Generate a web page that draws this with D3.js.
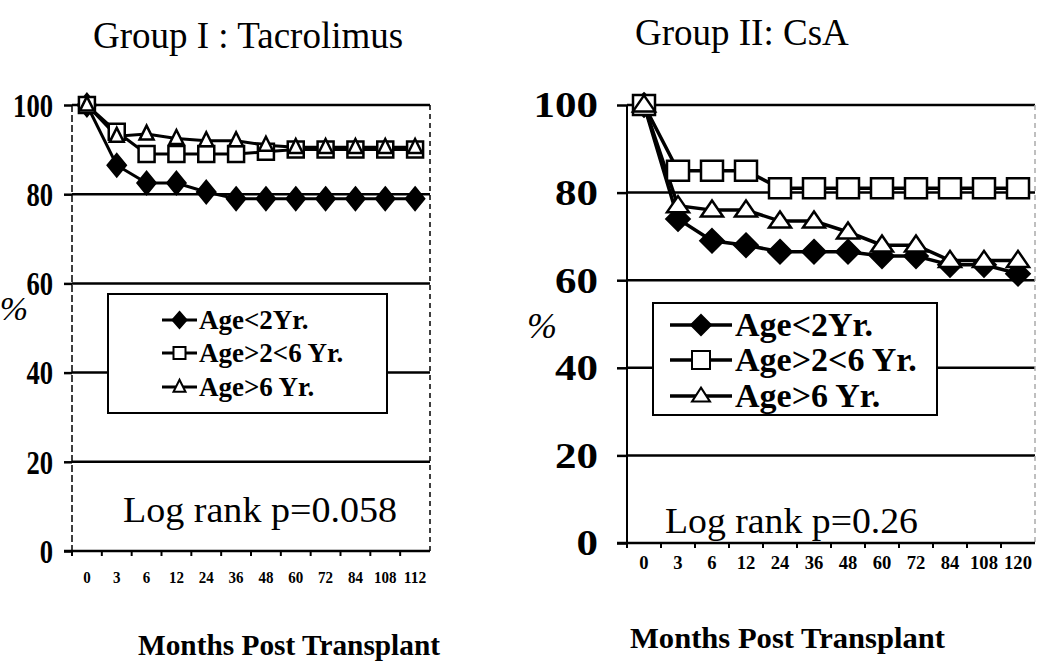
<!DOCTYPE html>
<html>
<head>
<meta charset="utf-8">
<script src="https://cdn.jsdelivr.net/npm/d3@7"></script>
<style>
  body { margin: 0; background: #fff; }
  text { font-family: "Liberation Serif", "Times New Roman", serif; fill: #000; }
</style>
</head>
<body>
<svg width="1050" height="670"></svg>
<script>
// x categories (months post transplant)
const monthsTac = ["0", "3", "6", "12", "24", "36", "48", "60", "72", "84", "108", "112"];
const monthsCsa = ["0", "3", "6", "12", "24", "36", "48", "60", "72", "84", "108", "120"];
const yTicks = [0, 20, 40, 60, 80, 100];
const seriesNames = ["Age<2Yr.", "Age>2<6 Yr.", "Age>6 Yr."];

// Group I : Tacrolimus (% survival)
const tacLt2 = [100, 86.5, 82.5, 82.5, 80.5, 79, 79, 79, 79, 79, 79, 79];
const tac2to6 = [100, 94, 89, 89, 89, 89, 89.5, 90, 90, 90, 90, 90];
const tacGt6 = [100, 93, 93.5, 92.5, 92, 92, 91, 90.5, 90.5, 90.5, 90.5, 90.5];

// Group II: CsA (% survival)
const csaLt2 = [100, 74, 69, 68, 66.5, 66.5, 66.5, 65.5, 65.5, 63.5, 63.5, 61.5];
const csa2to6 = [100, 85, 85, 85, 81, 81, 81, 81, 81, 81, 81, 81];
const csaGt6 = [100, 77, 76, 76, 73.5, 73.5, 71, 68, 68, 64.5, 64.5, 64.5];

const svg = d3.select("svg");

// marker shapes, drawn around (0,0)
function markerPath(kind, s) {
  if (kind === "diamond") return `M0,${-s.dh}L${s.dw},0L0,${s.dh}L${-s.dw},0Z`;
  if (kind === "square") return `M${-s.sw},${-s.sh}H${s.sw}V${s.sh}H${-s.sw}Z`;
  return `M0,${-s.th * 1.2}L${s.tw},${s.th * 0.8}L${-s.tw},${s.th * 0.8}Z`;
}
const kinds = ["diamond", "square", "triangle"];

function drawPanel(cfg) {
  const g = svg.append("g");

  const x = d3.scaleBand().domain(cfg.months).range(cfg.xRange);
  const y = d3.scaleLinear().domain([0, 100]).range(cfg.yRange);
  const cx = d => x(d) + x.bandwidth() / 2;
  const [x0, x1] = cfg.xRange;

  // horizontal grid lines (20..100)
  g.selectAll(".grid")
    .data(yTicks.filter(t => t > 0))
    .enter().append("line")
    .attr("x1", x0).attr("x2", x1)
    .attr("y1", d => y(d)).attr("y2", d => y(d))
    .attr("stroke", "#000").attr("stroke-width", 2.5);

  // right border
  g.append("line")
    .attr("x1", x1).attr("x2", x1)
    .attr("y1", y(100)).attr("y2", y(0))
    .attr("stroke", cfg.rightColor).attr("stroke-width", 1.5)
    .attr("stroke-dasharray", "5,4");

  // left axis line
  g.append("line")
    .attr("x1", x0).attr("x2", x0)
    .attr("y1", y(100)).attr("y2", y(0))
    .attr("stroke", "#000").attr("stroke-width", cfg.leftWidth)
    .attr("stroke-dasharray", cfg.leftDash);

  // bottom axis line
  g.append("line")
    .attr("x1", x0 - cfg.tick).attr("x2", x1)
    .attr("y1", y(0)).attr("y2", y(0))
    .attr("stroke", "#000").attr("stroke-width", 2.5);

  // y axis ticks + labels
  const yAxis = g.append("g")
    .attr("transform", `translate(${x0},0)`)
    .call(d3.axisLeft(y).tickValues(yTicks).tickSize(cfg.tick).tickPadding(cfg.yPad));
  yAxis.select(".domain").remove();
  yAxis.selectAll("line").attr("stroke", "#000").attr("stroke-width", 2.5);
  yAxis.selectAll("text")
    .attr("font-family", "Liberation Serif")
    .attr("font-weight", "bold")
    .attr("font-size", cfg.yFont)
    .attr("dy", "0.34em")
    .attr("textLength", d => String(d).length * cfg.yCharW)
    .attr("lengthAdjust", "spacingAndGlyphs");

  // x axis small ticks at band edges
  g.selectAll(".xtick")
    .data(cfg.months)
    .enter().append("line")
    .attr("x1", d => x(d)).attr("x2", d => x(d))
    .attr("y1", y(0)).attr("y2", y(0) + 5)
    .attr("stroke", "#000").attr("stroke-width", 2);

  // x tick labels
  const xAxis = g.append("g")
    .attr("transform", `translate(0,${y(0)})`)
    .call(d3.axisBottom(x).tickSize(0).tickPadding(cfg.xPad));
  xAxis.select(".domain").remove();
  xAxis.selectAll("text")
    .attr("font-family", "Liberation Serif")
    .attr("font-weight", "bold")
    .attr("font-size", cfg.xFont)
    .attr("textLength", d => d.length * cfg.xCharW)
    .attr("lengthAdjust", "spacingAndGlyphs");

  // series lines
  const line = d3.line().x((d, i) => cx(cfg.months[i])).y(d => y(d));
  cfg.series.forEach((vals, k) => {
    g.append("path")
      .datum(vals)
      .attr("d", line)
      .attr("fill", "none")
      .attr("stroke", "#000")
      .attr("stroke-width", cfg.lineW);
  });

  // markers
  cfg.series.forEach((vals, k) => {
    g.selectAll(".m" + k)
      .data(vals)
      .enter().append("path")
      .attr("transform", (d, i) => `translate(${cx(cfg.months[i])},${y(d)})`)
      .attr("d", markerPath(kinds[k], cfg.mk))
      .attr("fill", k === 0 ? "#000" : "#fff")
      .attr("stroke", "#000")
      .attr("stroke-width", 2.5);
  });

  // legend
  const lg = g.append("g");
  lg.append("rect")
    .attr("x", cfg.legend.x).attr("y", cfg.legend.y)
    .attr("width", cfg.legend.w).attr("height", cfg.legend.h)
    .attr("fill", "#fff").attr("stroke", "#000").attr("stroke-width", 2);
  seriesNames.forEach((name, k) => {
    const by = cfg.legend.rows[k];
    const mid = (cfg.legend.l0 + cfg.legend.l1) / 2;
    lg.append("line")
      .attr("x1", cfg.legend.l0).attr("x2", cfg.legend.l1)
      .attr("y1", by - cfg.legend.capMid).attr("y2", by - cfg.legend.capMid)
      .attr("stroke", "#000").attr("stroke-width", cfg.lineW);
    lg.append("path")
      .attr("transform", `translate(${mid},${by - cfg.legend.capMid})`)
      .attr("d", markerPath(kinds[k], cfg.legend.mk))
      .attr("fill", k === 0 ? "#000" : "#fff")
      .attr("stroke", "#000").attr("stroke-width", 2);
    lg.append("text")
      .attr("x", cfg.legend.tx).attr("y", by)
      .attr("font-weight", "bold")
      .attr("font-size", cfg.legend.font)
      .text(name);
  });

  // title
  g.append("text")
    .attr("x", cfg.title.x).attr("y", cfg.title.y)
    .attr("font-size", 37)
    .text(cfg.title.text);

  // log rank
  g.append("text")
    .attr("x", cfg.logrank.x).attr("y", cfg.logrank.y)
    .attr("font-size", 36)
    .attr("textLength", cfg.logrank.w)
    .attr("lengthAdjust", "spacingAndGlyphs")
    .text(cfg.logrank.text);

  // % label
  g.append("text")
    .attr("x", cfg.pct.x).attr("y", cfg.pct.y)
    .attr("font-size", cfg.pct.size)
    .attr("font-style", "italic")
    .attr("text-anchor", "middle")
    .text("%");

  // x axis title
  g.append("text")
    .attr("x", cfg.xTitle.x).attr("y", cfg.xTitle.y)
    .attr("font-size", 30)
    .attr("font-weight", "bold")
    .attr("textLength", cfg.xTitle.w)
    .attr("lengthAdjust", "spacingAndGlyphs")
    .text("Months Post Transplant");
}

drawPanel({
  months: monthsTac,
  series: [tacLt2, tac2to6, tacGt6],
  xRange: [72, 430],
  yRange: [551, 105],
  tick: 8, yPad: 11, yFont: 33, yCharW: 13.3,
  xPad: 21, xFont: 16, xCharW: 7.5,
  lineW: 3,
  leftWidth: 1.5, leftDash: "7,3", rightColor: "#000",
  mk: { dw: 9, dh: 11, sw: 8, sh: 8, tw: 7, th: 7 },
  legend: {
    x: 108, y: 294, w: 279, h: 119,
    rows: [329, 362, 396], capMid: 9,
    l0: 162, l1: 197, tx: 199, font: 27,
    mk: { dw: 7, dh: 8, sw: 6, sh: 6, tw: 6, th: 6 }
  },
  title: { x: 93, y: 48, text: "Group I : Tacrolimus" },
  logrank: { x: 123, y: 522, w: 274, text: "Log rank p=0.058" },
  pct: { x: 14, y: 320, size: 34 },
  xTitle: { x: 138, y: 655, w: 302 }
});

drawPanel({
  months: monthsCsa,
  series: [csaLt2, csa2to6, csaGt6],
  xRange: [627, 1035],
  yRange: [543, 105],
  tick: 10, yPad: 19, yFont: 35, yCharW: 21.5,
  xPad: 13, xFont: 18, xCharW: 9.3,
  lineW: 3.5,
  leftWidth: 2, leftDash: null, rightColor: "#aaa",
  mk: { dw: 11.5, dh: 11.5, sw: 11, sh: 10, tw: 11, th: 8 },
  legend: {
    x: 653, y: 303, w: 284, h: 112,
    rows: [336, 371, 407], capMid: 11,
    l0: 670, l1: 732, tx: 735, font: 34,
    mk: { dw: 10, dh: 10, sw: 9, sh: 9, tw: 9, th: 7 }
  },
  title: { x: 635, y: 45, text: "Group II: CsA" },
  logrank: { x: 665, y: 533, w: 253, text: "Log rank p=0.26" },
  pct: { x: 542, y: 338, size: 36 },
  xTitle: { x: 630, y: 648, w: 315 }
});
</script>
</body>
</html>
